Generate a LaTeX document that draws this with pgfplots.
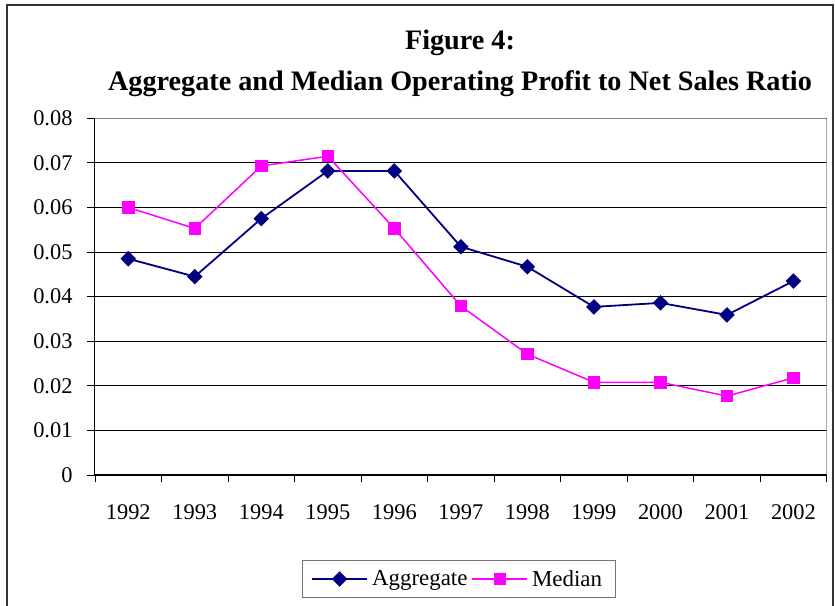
\documentclass[border=0pt]{standalone}
\usepackage{fontspec}
\setmainfont{Liberation Serif}
\usepackage{pgfplots}
\pgfplotsset{compat=1.18}
\definecolor{aggblue}{RGB}{0,0,128}
\definecolor{medpink}{RGB}{255,0,255}

\begin{document}
\begin{tikzpicture}[x=1bp,y=1bp]
\useasboundingbox (-95,-131) rectangle (740,475);
% outer chart frame
\draw[line width=1.2bp, black!80] (-88,470) rectangle (738,-140);
\node[font=\bfseries\fontsize{28.3}{41}\selectfont, align=center] at (365,412)
  {Figure 4:\\Aggregate and Median Operating Profit to Net Sales Ratio};

\begin{axis}[
  at={(0,0)}, anchor=south west,
  scale only axis, width=731.7bp, height=356.7bp,
  xmin=-0.5, xmax=10.5, ymin=0, ymax=0.08,
  scaled y ticks=false,
  axis lines*=left,
  axis line style={-, black, line width=1bp},
  tick align=outside,
  xtick={0,1,2,3,4,5,6,7,8,9,10},
  xticklabels={1992,1993,1994,1995,1996,1997,1998,1999,2000,2001,2002},
  major x tick style={draw=none},
  minor xtick={-0.5,0.5,...,10.5},
  minor tick length=7bp,
  ytick={0,0.01,0.02,0.03,0.04,0.05,0.06,0.07,0.08},
  yticklabels={0,0.01,0.02,0.03,0.04,0.05,0.06,0.07,0.08},
  major tick length=8bp,
  tick style={black, line width=0.8bp},
  ymajorgrids,
  grid style={black, line width=0.8bp},
  ticklabel style={font=\fontsize{22.5}{27}\selectfont},
  xticklabel style={yshift=-18bp},
  yticklabel style={xshift=-11bp},
  legend columns=2,
  legend style={at={(0.497,-0.2916)}, anchor=center, draw=black!55,
    line width=1bp, font=\fontsize{23}{27}\selectfont,
    inner xsep=9bp, inner ysep=8bp, nodes={inner xsep=4bp}},
  legend cell align=left,
  /tikz/every even column/.append style={column sep=0bp},
  legend image code/.code={
    \draw[mark repeat=2, mark phase=2] plot coordinates {(0bp,0bp) (27.5bp,0bp) (55bp,0bp)};},
]
\addplot[aggblue, line width=1.8bp, mark=diamond*, mark size=6.5bp,
  mark options={solid, xscale=1.33}] coordinates {
  (0,0.0485) (1,0.0445) (2,0.0575) (3,0.0682) (4,0.0682) (5,0.0512)
  (6,0.0467) (7,0.0377) (8,0.0386) (9,0.0359) (10,0.0435)};
\addlegendentry{Aggregate}
\addplot[medpink, line width=1.5bp, mark=square*, mark size=5.5bp,
  mark options={solid}] coordinates {
  (0,0.0600) (1,0.0553) (2,0.0693) (3,0.0715) (4,0.0553) (5,0.0379)
  (6,0.0271) (7,0.0208) (8,0.0208) (9,0.0177) (10,0.0218)};
\addlegendentry{Median}
\draw[gray, line width=1bp] (rel axis cs:0,1) -- (rel axis cs:1,1) -- (rel axis cs:1,0);
\end{axis}
\end{tikzpicture}
\end{document}
